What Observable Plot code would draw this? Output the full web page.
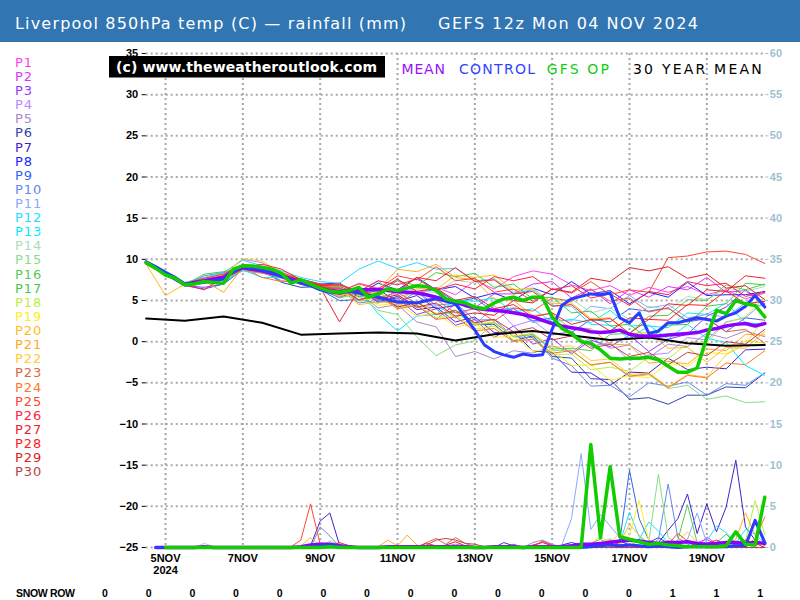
<!DOCTYPE html>
<html><head><meta charset="utf-8">
<script src="https://cdn.jsdelivr.net/npm/d3@7"></script>
<script src="https://cdn.jsdelivr.net/npm/@observablehq/plot@0.6"></script>
<style>
body{margin:0;background:#fff;}
#chart{position:relative;width:800px;height:600px;overflow:hidden;background:#fff;}
#plot{position:absolute;left:0;top:42px;}
#overlay{position:absolute;left:0;top:0;pointer-events:none;}
</style></head>
<body><div id="chart"><div id="plot"></div></div>
<script>
// ---------------- DATA ----------------
const titleLeft = "Liverpool 850hPa temp (C) \u2014 rainfall (mm)";
const titleRight = "GEFS 12z Mon 04 NOV 2024";
const watermark = "(c) www.theweatheroutlook.com";
const legendWords = ["MEAN", "CONTROL", "GFS OP", "30 YEAR MEAN"];
const memberNames = ["P1","P2","P3","P4","P5","P6","P7","P8","P9","P10","P11","P12","P13","P14","P15","P16","P17","P18","P19","P20","P21","P22","P23","P24","P25","P26","P27","P28","P29","P30"];
const tempTicks = [-25,-20,-15,-10,-5,0,5,10,15,20,25,30,35];
const dateTickDays = [5,7,9,11,13,15,17,19];
const dateTickLabels = ["5NOV\n2024","7NOV","9NOV","11NOV","13NOV","15NOV","17NOV","19NOV"];
const snowLabel = "SNOW ROW";
const snowValues = [0,0,0,0,0,0,0,0,0,0,0,0,0,1,1,1];

// ensemble members, 850hPa temp every 12 h from 04 Nov 12z
const memberTemps = [
[9.8,8.4,7.0,7.6,8.2,9.4,8.8,8.1,7.0,6.6,6.0,7.1,6.5,7.4,5.9,6.6,5.7,7.4,6.4,7.9,8.6,8.2,6.9,6.2,6.8,5.6,6.6,6.0,6.7,5.7,6.3,5.2,5.9],
[9.5,8.2,6.9,7.3,7.9,9.2,8.5,7.9,7.1,6.3,6.4,5.0,5.6,4.3,4.4,2.7,4.6,4.1,5.8,5.8,7.0,7.3,5.3,6.4,4.6,6.3,5.4,6.7,6.3,7.8,6.0,6.2,4.5],
[9.6,8.3,6.8,6.6,7.0,8.8,8.4,7.8,7.3,6.8,5.6,6.4,4.9,5.3,3.3,4.0,2.0,2.7,0.5,1.9,-0.3,0.4,-1.5,0.2,-0.6,0.8,-1.2,0.3,0.9,3.1,4.2,6.3,4.6],
[9.7,8.5,7.1,7.7,8.3,10.0,9.6,8.2,7.4,6.9,7.0,6.1,7.4,5.4,6.1,4.0,4.5,2.0,4.4,1.9,2.6,0.8,1.3,-0.6,-0.1,-2.3,-1.6,-1.4,0.5,0.2,2.4,2.9,4.9],
[9.4,8.1,6.8,7.1,7.5,8.6,8.3,7.7,7.0,6.4,5.3,5.9,4.1,4.5,2.4,1.8,-1.8,-1.2,-2.1,-1.1,-1.4,-0.5,-1.3,0.5,-0.8,-0.4,-1.9,-0.3,-0.6,1.0,0.4,1.3,0.6],
[9.6,8.2,6.9,7.5,7.9,9.1,8.7,7.2,6.6,6.7,6.8,5.5,6.3,4.9,5.6,4.0,4.4,2.1,2.1,0.1,0.7,-1.8,-2.0,-4.5,-4.6,-7.0,-6.8,-7.6,-6.5,-6.5,-5.5,-5.6,-3.8],
[9.5,8.3,7.0,7.3,7.7,8.9,8.5,7.9,7.1,6.4,5.4,6.2,4.8,5.5,3.9,4.2,2.4,3.0,1.1,1.2,-1.1,-1.3,-3.7,-3.8,-5.3,-3.7,-3.8,-2.0,-3.4,-3.1,-3.3,-1.0,-0.9],
[9.7,8.4,7.1,7.5,8.0,9.2,8.9,8.3,7.6,7.0,7.1,5.8,7.1,6.3,7.8,6.3,6.7,5.3,5.9,5.0,6.5,5.7,7.3,5.8,6.2,4.6,6.0,5.4,7.2,5.6,5.7,5.7,6.1],
[9.6,8.2,6.8,6.4,7.0,8.8,8.4,7.9,7.2,6.3,5.0,5.1,4.7,6.3,5.8,6.4,4.8,5.3,3.6,4.0,2.5,2.9,1.1,2.7,2.4,4.0,3.7,4.1,2.4,2.8,1.2,2.9,2.6],
[9.5,8.3,6.9,8.0,8.4,8.9,8.6,7.4,7.2,6.6,6.5,4.7,5.0,4.6,6.1,4.4,4.7,2.6,2.7,0.6,0.5,-2.0,-2.9,-5.4,-5.3,-6.7,-5.0,-5.4,-4.9,-6.5,-5.1,-5.3,-3.8],
[9.6,8.3,7.0,7.4,7.8,9.0,8.7,8.1,7.3,6.8,5.9,6.6,5.2,5.7,4.1,4.5,2.9,4.3,3.9,4.1,2.3,2.7,2.5,4.3,4.0,5.6,4.1,4.5,2.9,3.3,3.0,4.7,4.3],
[9.8,8.6,7.2,7.8,8.4,9.9,9.2,8.6,7.8,7.3,7.1,8.8,9.8,8.9,9.6,8.8,8.9,7.4,7.6,5.9,6.3,4.4,4.3,2.1,2.0,0.4,1.9,1.7,3.5,3.3,4.7,2.3,2.1],
[9.5,8.2,6.9,7.2,7.2,8.7,7.8,7.8,7.1,6.5,5.6,6.3,3.4,1.3,3.1,3.3,5.1,4.9,5.3,3.6,4.0,2.4,2.7,2.3,3.8,1.9,2.0,0.3,2.1,0.4,-0.1,-2.9,-4.1],
[9.6,8.3,6.9,7.4,7.8,8.9,8.6,8.0,7.4,6.9,7.0,6.1,7.3,5.7,6.3,5.9,7.5,7.1,7.7,6.1,6.4,4.8,5.2,3.5,4.1,2.7,4.3,3.9,5.5,5.1,6.5,6.1,6.7],
[9.5,8.2,6.8,7.3,7.7,8.8,8.5,7.9,7.2,6.5,5.4,5.6,3.8,3.3,0.6,-1.7,-0.4,0.1,2.3,0.7,0.8,-1.1,-1.0,-2.9,-2.5,-4.3,-4.0,-5.7,-5.3,-7.0,-6.6,-7.4,-7.3],
[9.7,8.4,7.0,7.5,8.1,9.3,8.9,8.2,7.5,6.8,6.7,5.4,6.0,4.5,4.9,3.3,3.6,2.0,2.3,0.6,0.9,-0.9,-0.8,-1.1,0.9,1.0,3.1,3.2,5.1,5.0,6.9,6.3,7.0],
[9.6,8.3,6.9,8.2,8.5,9.0,8.7,8.1,7.4,6.7,5.8,6.5,5.9,7.4,6.8,8.4,7.9,8.3,6.6,7.0,5.2,5.4,3.5,3.7,1.9,2.1,0.3,2.0,2.1,4.3,4.6,7.1,6.9],
[9.5,8.2,6.9,7.3,7.7,8.8,8.4,7.8,7.1,6.4,6.3,4.9,5.5,4.1,4.5,2.9,3.2,1.5,1.9,0.2,0.3,-1.6,-1.5,-3.4,-3.1,-3.6,-1.9,-2.1,-0.2,-0.1,2.3,3.0,5.4],
[9.6,8.3,7.0,7.5,7.9,9.1,8.7,8.0,7.3,6.6,5.6,6.0,4.4,4.7,3.1,3.5,1.8,2.2,0.5,0.7,-1.1,-1.0,-2.9,-2.8,-4.7,-4.1,-4.4,-2.6,-3.0,-1.3,-1.5,0.1,-0.2],
[9.4,5.6,7.0,7.1,7.5,8.9,8.6,8.0,7.2,6.5,6.3,4.5,4.8,4.7,6.5,6.3,8.1,7.8,8.1,6.3,6.5,4.6,4.7,2.8,2.9,1.0,1.1,-0.8,-0.7,-2.5,-0.7,-0.8,1.2],
[9.6,8.3,6.9,7.4,6.0,9.0,8.5,7.9,7.2,6.5,5.5,6.2,6.3,8.8,8.5,9.4,7.8,7.5,5.1,5.0,3.2,3.4,1.5,1.6,-0.3,-0.4,-2.6,-2.4,-2.7,-0.9,-1.1,0.9,0.8],
[9.7,8.4,7.1,7.6,8.1,10.1,9.8,8.3,7.5,6.9,6.9,5.6,6.1,4.5,4.9,3.4,3.8,2.1,2.4,0.7,1.0,-0.7,-0.5,-2.3,-2.1,-4.0,-3.8,-5.5,-4.0,-4.3,-1.6,-0.3,2.9],
[9.5,8.2,6.8,7.3,7.7,8.8,8.4,7.8,7.1,6.6,5.7,6.5,5.3,6.0,4.6,5.1,3.5,4.0,2.5,4.1,3.7,5.3,4.9,6.4,4.9,5.3,3.6,4.1,2.5,2.9,1.2,1.5,-0.2],
[9.6,8.3,7.0,7.5,7.9,9.0,7.8,7.3,7.3,6.7,6.6,5.1,5.6,4.0,4.4,2.7,3.0,1.3,1.6,0.0,0.3,-1.4,-1.1,-2.8,-2.5,-4.2,-3.9,-5.6,-4.1,-4.4,-2.6,-2.8,-1.1],
[9.8,8.5,7.1,7.7,8.2,9.4,9.1,8.4,7.6,7.0,6.1,7.0,6.4,8.0,7.5,9.1,7.4,7.7,6.0,6.4,4.9,6.4,5.9,7.3,5.7,6.3,6.0,10.2,10.4,10.9,11.0,10.6,9.5],
[9.6,8.3,6.9,6.3,7.8,9.1,8.7,8.1,7.4,6.8,6.9,6.1,7.4,6.9,7.6,6.3,7.0,6.4,7.9,7.4,7.9,6.3,6.8,5.3,5.8,4.4,6.1,5.7,7.3,6.8,7.1,5.5,6.0],
[9.5,8.2,6.9,7.3,7.6,8.8,8.5,7.9,7.2,6.6,2.4,6.3,6.2,7.6,6.1,6.5,5.0,5.5,4.0,4.5,3.0,3.5,2.1,2.7,1.3,2.9,2.7,4.6,4.4,6.3,6.1,8.0,7.7],
[9.6,8.3,7.0,7.4,7.9,9.0,9.4,8.8,7.5,6.9,7.0,5.8,6.5,6.1,7.8,7.4,9.0,7.3,7.5,5.8,6.1,4.3,4.5,2.6,2.8,1.0,2.7,2.6,4.5,4.4,6.2,4.6,4.9],
[9.7,8.4,7.1,7.5,8.0,9.2,8.8,8.2,7.5,6.8,5.8,6.5,5.1,5.7,4.2,4.7,3.1,3.5,3.2,5.0,4.7,6.4,6.0,7.7,7.3,9.0,8.6,9.1,7.7,8.2,6.5,6.8,5.1],
[9.5,8.2,6.9,7.3,7.7,8.9,8.5,7.9,7.2,6.5,6.5,5.1,5.7,4.2,4.8,3.3,3.8,2.3,2.7,1.2,1.7,0.2,0.7,-0.8,-0.3,-1.8,-1.3,-2.8,-1.3,-1.7,0.0,-0.3,1.5]
];

// ensemble rainfall: [6-hour step, mm]; every other step reads 0 mm
const memberRainEvents = [
[[58,1.3],[59,0.4]],
[[57,0.6],[58,1.0],[59,0.3]],
[[38,0.4],[41,0.8],[42,0.3],[60,0.5]],
[[49,0.5],[50,0.8],[62,0.9]],
[[31,0.2],[32,0.4],[33,0.2],[40,0.6],[41,0.9],[42,0.4]],
[[37,0.6],[38,0.2],[52,0.6],[53,1.2],[54,0.5]],
[[17,0.2],[18,3.2],[19,4.2],[20,0.3],[53,0.6],[54,2.1],[55,3.5],[56,6.5],[57,1.7],[58,5.3],[59,1.9],[60,4.9],[61,10.6],[62,2.5],[63,0.9],[64,0.3]],
[[43,0.3],[44,0.6],[45,0.3],[48,0.5],[49,0.8],[50,0.3]],
[[19,0.4],[20,0.2],[49,0.8],[50,9.4],[51,3.5],[52,0.9],[53,0.4]],
[[18,2.5],[19,1.4],[20,0.1],[53,1.0],[54,7.7],[55,1.2],[56,0.4]],
[[43,0.3],[44,3.5],[45,11.4],[46,2.2],[47,4.0],[48,2.6],[49,1.2],[50,0.4],[56,1.0],[57,4.2],[58,0.5]],
[[49,0.5],[50,4.3],[51,1.3],[52,0.4],[58,0.8],[59,2.6],[60,1.8],[61,0.6]],
[[51,1.0],[52,3.1],[53,2.0],[54,0.5],[61,0.5],[62,2.2],[63,1.6],[64,0.5]],
[[6,0.5],[7,0.1],[19,0.5],[20,0.2],[47,0.6],[48,1.1],[49,0.4]],
[[19,0.8],[20,0.3],[52,0.8],[53,8.9],[54,1.2],[55,0.5]],
[[55,0.9],[56,5.2],[57,0.6],[60,0.4]],
[[46,0.5],[47,1.0],[48,0.3],[59,0.6],[60,1.6],[61,0.5]],
[[57,0.4],[62,0.8],[63,5.7],[64,1.5]],
[[49,0.4],[50,1.5],[51,5.7],[52,0.8]],
[[16,0.2],[17,1.2],[18,0.3],[49,0.6],[50,2.8],[51,1.5],[52,0.5]],
[[24,0.1],[25,0.9],[26,0.2],[27,1.5],[28,0.3],[61,1.0],[62,4.2],[63,1.5]],
[[46,0.5],[47,1.3],[48,0.6],[49,1.7],[50,0.8],[55,0.7],[56,1.9],[57,0.6]],
[[29,0.6],[30,1.1],[31,0.4],[32,1.2],[33,0.5],[34,0.1]],
[[40,0.2],[41,0.7],[42,0.2],[62,0.4],[63,1.0],[64,3.7]],
[[15,0.1],[16,0.9],[17,5.3],[18,0.4],[19,0.1],[54,0.4],[55,1.7],[56,0.8]],
[[19,0.2],[20,0.6],[21,0.2],[47,0.4],[48,0.9],[49,0.3]],
[[40,0.3],[41,0.6],[42,0.2],[58,0.5],[59,0.9],[60,0.3]],
[[28,0.1],[29,0.5],[30,0.2],[53,0.3],[54,0.8],[55,0.4]],
[[31,0.3],[32,0.7],[33,0.2],[61,0.4],[62,0.9],[63,0.5]],
[[29,0.3],[30,0.9],[31,1.1],[32,0.9],[33,0.5],[34,0.4],[35,0.1]]
];

// 6-hourly series from 04 Nov 12z
const meanTemp = [9.6,9.0,8.3,7.6,6.9,7.2,7.4,7.6,7.8,8.6, 9.0,8.8,8.6,8.3,8.0,7.6,7.2,6.9,6.5,6.2, 6.1,6.2,6.3,6.3,6.3,6.2,6.1,6.0,5.9,5.7, 5.4,5.1,4.8,4.4,4.1,3.9,3.8,3.7,3.5,3.3, 3.0,2.6,2.2,1.9,1.7,1.5,1.2,1.1,1.2,1.4, 0.9,0.7,0.7,0.7,0.8,0.9,1.0,1.1,1.4,1.6, 1.9,2.1,2.2,1.9,2.2];
const controlTemp = [9.7,9.1,8.4,7.8,7.0,7.1,7.2,7.4,7.6,8.5, 9.1,8.9,8.7,8.4,7.9,7.5,7.1,6.8,6.3,6.0, 5.9,6.1,5.9,5.6,5.4,5.1,4.8,4.8,4.7,5.0, 5.2,4.9,4.6,3.0,1.4,-0.4,-1.2,-1.6,-1.9,-1.5, -1.7,-1.6,1.5,4.4,5.2,5.5,5.8,5.7,5.9,2.9, 2.3,3.5,1.0,1.3,2.3,2.3,2.6,2.9,2.7,2.5, 3.1,3.5,4.3,5.6,4.2];
const gfsOpTemp = [9.6,8.9,8.1,7.7,6.9,7.0,7.3,7.2,7.1,8.8, 9.2,9.2,9.0,8.8,8.3,7.1,7.5,7.0,6.5,6.1, 6.0,6.2,6.6,5.4,5.8,6.4,6.2,6.5,6.8,6.7, 6.2,5.2,4.9,4.7,4.2,4.0,4.7,5.2,5.4,5.0, 5.4,5.4,3.0,1.6,1.0,0.0,-0.2,-1.0,-2.0,-2.1, -2.0,-2.0,-1.9,-2.2,-3.0,-3.7,-3.7,-3.2,0.5,3.8, 3.4,5.0,4.6,4.4,3.0];
// 30 year mean, daily from 04 Nov 12z
const climoTemp = [2.8,2.55,3.05,2.3,0.85,1.0,1.1,1.0,0.15,0.9,1.3,0.75,0.2,0.5,-0.2,-0.5,-0.4];

const meanRain = [null,0,0,0,0,0,0.1,0,0,0, 0,0,0,0,0,0,0.1,0.3,0.4,0.4, 0.2,0.1,0,0,0,0.1,0.1,0.1,0.1,0.1, 0.1,0.1,0.1,0.1,0,0,0.1,0.1,0.1,0, 0.1,0.1,0.1,0.1,0.2,0.4,0.4,0.5,0.6,0.8, 0.9,0.8,0.6,0.5,0.6,0.6,0.7,0.5,0.4,0.5, 0.6,0.6,0.5,0.6,0.5];
const controlRain = [null,0,0,0,0,0,0,0,0,0, 0,0,0,0,0,0,0,0,0.2,0.3, 0.1,0,0,0,0,0,0,0,0,0, 0,0,0,0,0,0,0,0,0,0, 0,0,0,0,0,0,0.1,0.2,0.3,0.2, 0.3,0.2,0.1,0.2,0.1,0,0.1,0.2,0.1,0.1, 0.1,0.2,0.2,3.3,0.6];
const gfsOpRain = [null,null,0,0,0,0,0,0,0,0, 0,0,0,0,0,0,0,0,0,0.1, 0,0,0,0,0,0,0,0,0,0, 0,0,0,0,0,0,0,0,0,0, 0,0,0,0,0,0,12.5,1.2,9.8,1.3, 1.0,0.7,0.4,0.5,0.3,0.2,0.1,0.1,0.1,0.1, 0.2,1.9,0.4,0.3,6.1];

// ---------------- STYLE ----------------
const memberColors = ["#ff44ee","#dd33ff","#9933ff","#bb88ff","#aa88cc","#3344aa","#4422cc","#2222ff","#3366ee","#6688ee","#88aaff","#22ddff","#00eeff","#aaddbb","#88dd88","#55cc55","#44cc44","#bbee44","#ffee22","#ffbb22","#ffaa22","#ffcc33","#dd6644","#ff7722","#ff4433","#ff2244","#ee2233","#ff2222","#dd2222","#bb4444"];
const legendColors = ["#9911ff","#3344ff","#11cc11","#000000"];
const C_MEAN = "#8a00ff", C_CTRL = "#2a3cff", C_OP = "#11cc00";

// ---------------- BUILD ----------------
const START = Date.UTC(2024, 10, 4, 12);
const HR = 3600e3;
const at = h => new Date(START + h * HR);
const dateTicks = dateTickDays.map(d => new Date(Date.UTC(2024, 10, d, 0)));
const dateLabel = new Map(dateTicks.map((d, i) => [+d, dateTickLabels[i]]));
const gridStyle = {stroke: "#a8a8a8", strokeOpacity: 1, strokeWidth: 2, strokeDasharray: "2,3"};

const marks = [
  Plot.gridY(tempTicks, gridStyle),
  Plot.gridX(dateTicks, gridStyle)
];
// rainfall members (right-hand 0..60 scale shares the frame: 0 mm sits on -25)
memberRainEvents.forEach((ev, m) => {
  const rows = d3.range(1, 65).map(i => ({t: at(6 * i), r: 0}));
  ev.forEach(([i, r]) => { rows[i - 1].r = r; });
  marks.push(Plot.line(rows, {x: "t", y: d => d.r - 25, stroke: memberColors[m], strokeWidth: 1}));
});
// temperature members
memberTemps.forEach((vals, m) => {
  marks.push(Plot.line(vals.map((v, j) => ({t: at(12 * j), v})), {x: "t", y: "v", stroke: memberColors[m], strokeWidth: 1}));
});
const six = arr => arr.map((v, i) => ({t: at(6 * i), v})).filter(d => d.v != null);
marks.push(
  Plot.line(climoTemp.map((v, k) => ({t: at(24 * k), v})), {x: "t", y: "v", stroke: "#000", strokeWidth: 2}),
  Plot.line(six(meanTemp), {x: "t", y: "v", stroke: C_MEAN, strokeWidth: 3.5}),
  Plot.line(six(controlTemp), {x: "t", y: "v", stroke: C_CTRL, strokeWidth: 3}),
  Plot.line(six(gfsOpTemp), {x: "t", y: "v", stroke: C_OP, strokeWidth: 3.5}),
  Plot.line(six(meanRain), {x: "t", y: d => d.v - 25, stroke: C_MEAN, strokeWidth: 3.5}),
  Plot.line(six(controlRain), {x: "t", y: d => d.v - 25, stroke: C_CTRL, strokeWidth: 3}),
  Plot.line(six(gfsOpRain), {x: "t", y: d => d.v - 25, stroke: C_OP, strokeWidth: 3.5}),
  Plot.axisY(tempTicks, {anchor: "left", tickSize: 4, tickPadding: 4, label: null}),
  Plot.axisY(tempTicks, {anchor: "right", tickSize: 3, tickPadding: 2, label: null, color: "#9ebfd0", tickFormat: d => String(d + 25)}),
  Plot.axisX(dateTicks, {anchor: "bottom", tickSize: 0, tickPadding: 6, label: null, lineHeight: 1.1, tickFormat: d => dateLabel.get(+d)})
);

const chart = Plot.plot({
  width: 800, height: 530,
  marginTop: 11, marginBottom: 25, marginLeft: 145.7, marginRight: 35.7,
  x: {type: "utc", domain: [at(0), at(16 * 24)]},
  y: {domain: [-25, 35]},
  style: {fontFamily: "'Liberation Sans', Arial, sans-serif", fontSize: "11px", fontWeight: "bold", background: "#fff", color: "#000", overflow: "visible"},
  marks
});
document.getElementById("plot").appendChild(chart);

// ---------------- OVERLAY: header, legends, watermark, snow row ----------------
const ov = d3.select("#chart").append("svg").attr("id", "overlay").attr("width", 800).attr("height", 600);
ov.append("rect").attr("x", 0).attr("y", 0).attr("width", 800).attr("height", 42).attr("fill", "#3175b2");
const hdr = {fill: "#fff", "font-family": "'DejaVu Sans', sans-serif", "font-size": 16};
const addText = (g, txt, attrs) => { const t = g.append("text").text(txt); Object.entries(attrs).forEach(([k, v]) => t.attr(k, v)); return t; };
addText(ov, titleLeft, {...hdr, x: 15, y: 29, textLength: 391, lengthAdjust: "spacing"});
addText(ov, titleRight, {...hdr, x: 438, y: 29, textLength: 260, lengthAdjust: "spacing"});

memberNames.forEach((n, k) => {
  addText(ov, n, {x: 15, y: 66.8 + k * 14.12, fill: memberColors[k], "font-family": "'DejaVu Sans', sans-serif", "font-size": 13, "letter-spacing": 1});
});

ov.append("rect").attr("x", 109).attr("y", 56).attr("width", 276).attr("height", 21.5).attr("fill", "#000");
addText(ov, watermark, {x: 116, y: 72, fill: "#fff", "font-family": "'DejaVu Sans', sans-serif", "font-weight": "bold", "font-size": 14, textLength: 261, lengthAdjust: "spacing"});

const legX = [401.5, 459, 546.7, 633], legW = [43.5, 76, 62.3, 128.7];
legendWords.forEach((w, k) => {
  addText(ov, w, {x: legX[k], y: 74.3, fill: legendColors[k], "font-family": "'DejaVu Sans', sans-serif", "font-size": 14, textLength: legW[k], lengthAdjust: "spacing"});
});

addText(ov, snowLabel, {x: 16, y: 597, fill: "#000", "font-family": "'Liberation Sans', Arial, sans-serif", "font-weight": "bold", "font-size": 10.5, textLength: 59, lengthAdjust: "spacing"});
snowValues.forEach((v, k) => {
  addText(ov, String(v), {x: 105 + k * 43.67, y: 597, fill: "#000", "text-anchor": "middle", "font-family": "'Liberation Sans', Arial, sans-serif", "font-weight": "bold", "font-size": 10.5});
});
</script></body></html>
